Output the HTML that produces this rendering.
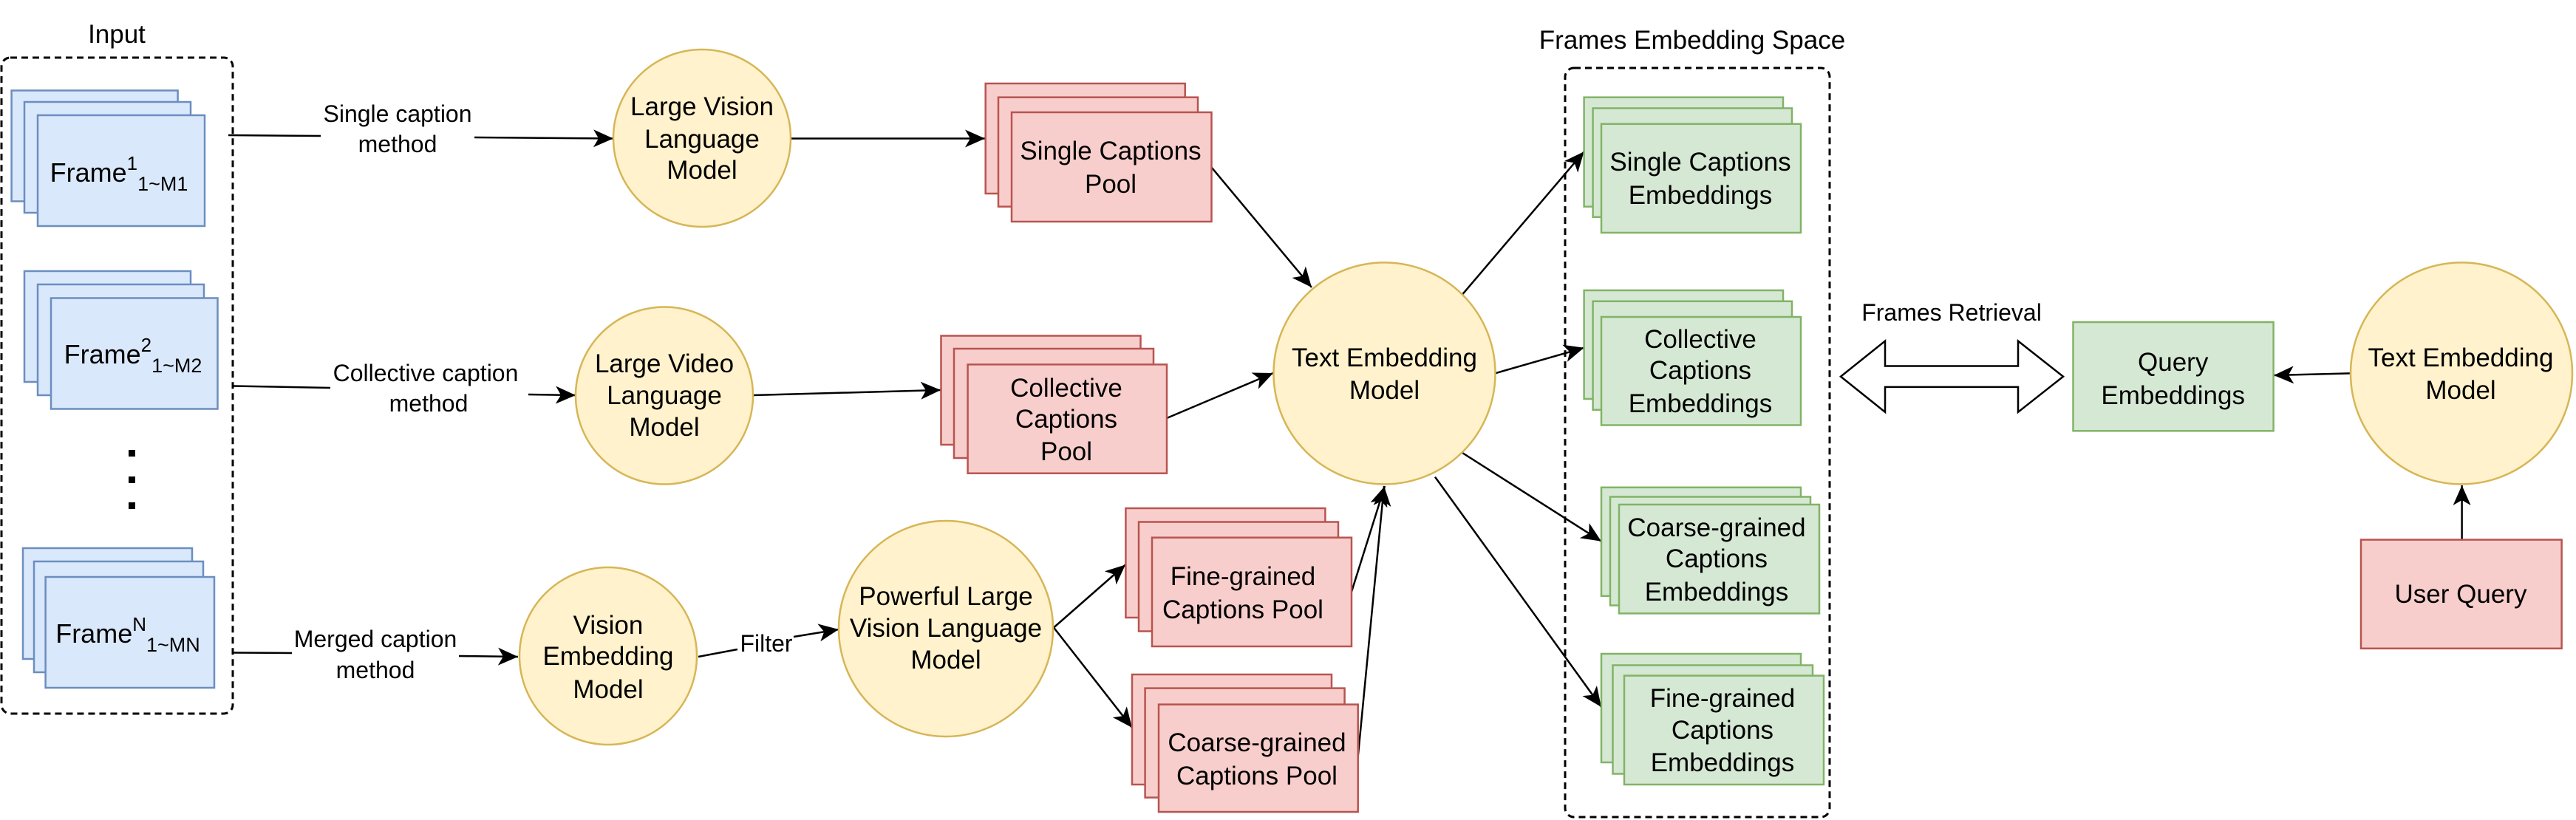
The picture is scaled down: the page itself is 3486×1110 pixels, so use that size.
<!DOCTYPE html>
<html><head><meta charset="utf-8"><style>
html,body{margin:0;padding:0;background:#fff;}
svg{display:block;}
text{font-family:"Liberation Sans",Arial,sans-serif;fill:#000;}
</style></head><body>
<svg width="3486" height="1110" viewBox="0 0 3486 1110" xmlns="http://www.w3.org/2000/svg">
<defs>
<marker id="a" markerUnits="userSpaceOnUse" markerWidth="30" markerHeight="26" refX="27" refY="12" orient="auto" viewBox="0 0 30 26">
<path d="M0,0 L27,12 L0,24 L7,12 z" fill="#000"/>
</marker>
</defs>
<g font-size="35" text-anchor="middle">
<!-- Input -->
<text x="158" y="58">Input</text>
<rect x="2" y="78" width="313" height="888" rx="12" fill="none" stroke="#000" stroke-width="3" stroke-dasharray="9,6"/>
<g fill="#dae8fc" stroke="#6c8ebf" stroke-width="2.5">
<rect x="15.6" y="122.5" width="225" height="150"/>
<rect x="33" y="138" width="225" height="150"/>
<rect x="51" y="156" width="226" height="150"/>
<rect x="33" y="367" width="225" height="150"/>
<rect x="51" y="385" width="225" height="150"/>
<rect x="69" y="403.5" width="225.5" height="150"/>
<rect x="31" y="742" width="229" height="150"/>
<rect x="46" y="760" width="229" height="150"/>
<rect x="61.6" y="781" width="228.4" height="150"/>
</g>
<text x="161" y="246" font-size="36">Frame<tspan font-size="26" dy="-16">1</tspan><tspan font-size="27" dy="28">1~M1</tspan></text>
<text x="180" y="492" font-size="36">Frame<tspan font-size="26" dy="-16">2</tspan><tspan font-size="27" dy="28">1~M2</tspan></text>
<text x="173" y="870" font-size="36">Frame<tspan font-size="26" dy="-16">N</tspan><tspan font-size="27" dy="28">1~MN</tspan></text>
<rect x="174" y="609" width="9" height="9"/>
<rect x="174" y="645" width="9" height="9"/>
<rect x="174" y="680" width="9" height="9"/>

<!-- connectors with labels -->
<g stroke="#000" stroke-width="2.5" fill="none">
<line x1="309" y1="183" x2="434" y2="184"/>
<line x1="642" y1="186" x2="830" y2="187.5" marker-end="url(#a)"/>
<line x1="315" y1="522.5" x2="447" y2="525"/>
<line x1="715" y1="534" x2="779" y2="535" marker-end="url(#a)"/>
<line x1="315" y1="883.5" x2="395" y2="884"/>
<line x1="621" y1="888" x2="701" y2="889" marker-end="url(#a)"/>
<line x1="945" y1="889" x2="998" y2="879"/>
<line x1="1074" y1="862" x2="1135" y2="852" marker-end="url(#a)"/>
<line x1="1070" y1="187.5" x2="1333" y2="187.5" marker-end="url(#a)"/>
<line x1="1019" y1="535" x2="1273" y2="528" marker-end="url(#a)"/>
<line x1="1426" y1="849.5" x2="1523" y2="764.5" marker-end="url(#a)"/>
<line x1="1426" y1="849.5" x2="1532" y2="985" marker-end="url(#a)"/>
<line x1="1639.5" y1="226.5" x2="1775" y2="389" marker-end="url(#a)"/>
<line x1="1579" y1="566" x2="1723" y2="505" marker-end="url(#a)"/>
<line x1="1829" y1="801" x2="1874" y2="658" marker-end="url(#a)"/>
<line x1="1837.7" y1="1024" x2="1873" y2="658" marker-end="url(#a)"/>
<line x1="1979" y1="398.6" x2="2143.6" y2="205.3" marker-end="url(#a)"/>
<line x1="2023" y1="505.4" x2="2143.6" y2="470.8" marker-end="url(#a)"/>
<line x1="1979" y1="613" x2="2167" y2="732.7" marker-end="url(#a)"/>
<line x1="1942" y1="645.6" x2="2167" y2="957" marker-end="url(#a)"/>
<line x1="3181" y1="505.4" x2="3077" y2="508" marker-end="url(#a)"/>
<line x1="3331.6" y1="730.6" x2="3331.6" y2="657" marker-end="url(#a)"/>
</g>
<g font-size="32">
<text x="538" y="165">Single caption</text>
<text x="538" y="206">method</text>
<text x="576" y="516">Collective caption</text>
<text x="580" y="557">method</text>
<text x="508" y="876">Merged caption</text>
<text x="508" y="918">method</text>
<text x="1037" y="882">Filter</text>
</g>

<!-- yellow circles -->
<g fill="#fff2cc" stroke="#d6b656" stroke-width="2.5">
<circle cx="950" cy="187" r="120"/>
<circle cx="899" cy="535.5" r="120"/>
<circle cx="823" cy="888" r="120"/>
<ellipse cx="1280" cy="851" rx="145" ry="146"/>
<circle cx="1873.5" cy="505.4" r="150"/>
<circle cx="3331" cy="505.4" r="150"/>
</g>
<text x="950" y="156">Large Vision</text>
<text x="950" y="200">Language</text>
<text x="950" y="242">Model</text>
<text x="899" y="504">Large Video</text>
<text x="899" y="547">Language</text>
<text x="899" y="590">Model</text>
<text x="823" y="858">Vision</text>
<text x="823" y="900">Embedding</text>
<text x="823" y="945">Model</text>
<text x="1280" y="819">Powerful Large</text>
<text x="1280" y="862">Vision Language</text>
<text x="1280" y="905">Model</text>
<text x="1873.5" y="496">Text Embedding</text>
<text x="1873.5" y="540">Model</text>
<text x="3330" y="496">Text Embedding</text>
<text x="3330" y="540">Model</text>

<!-- red pools -->
<g fill="#f8cecc" stroke="#b85450" stroke-width="2.5">
<rect x="1333.7" y="113" width="270" height="149"/>
<rect x="1351" y="131.7" width="270" height="148"/>
<rect x="1369" y="152" width="270.5" height="148"/>
<rect x="1273.5" y="454.5" width="270" height="147.5"/>
<rect x="1291" y="472" width="270" height="148"/>
<rect x="1309.6" y="493.4" width="269.4" height="147.3"/>
<rect x="1523.4" y="688" width="270" height="148"/>
<rect x="1541" y="706.5" width="270" height="148"/>
<rect x="1559" y="727.7" width="270" height="147.3"/>
<rect x="1532" y="913" width="270" height="149"/>
<rect x="1549.6" y="931.6" width="270" height="148"/>
<rect x="1568" y="953.6" width="269.7" height="145.4"/>
<rect x="3195" y="730.6" width="271.6" height="147.2"/>
</g>
<text x="1503" y="216">Single Captions</text>
<text x="1503" y="261">Pool</text>
<text x="1443" y="537">Collective</text>
<text x="1443" y="579">Captions</text>
<text x="1443" y="623">Pool</text>
<text x="1682" y="792">Fine-grained</text>
<text x="1682" y="837">Captions Pool</text>
<text x="1701" y="1017">Coarse-grained</text>
<text x="1701" y="1062">Captions Pool</text>
<text x="3330" y="816">User Query</text>

<!-- frames embedding space -->
<text x="2290" y="66">Frames Embedding Space</text>
<rect x="2118" y="92" width="358" height="1014" rx="12" fill="none" stroke="#000" stroke-width="3" stroke-dasharray="9,6"/>
<g fill="#d5e8d4" stroke="#82b366" stroke-width="2.5">
<rect x="2143.6" y="131.7" width="269.4" height="148"/>
<rect x="2155.6" y="146.5" width="269.4" height="147.3"/>
<rect x="2167" y="167.8" width="270" height="147.2"/>
<rect x="2143.6" y="393" width="269.4" height="147"/>
<rect x="2155.6" y="407.8" width="269.4" height="147"/>
<rect x="2167" y="429" width="270" height="146.5"/>
<rect x="2167" y="659.8" width="270" height="147"/>
<rect x="2179" y="672.5" width="271" height="147"/>
<rect x="2191" y="683" width="271" height="147.4"/>
<rect x="2167" y="885" width="270" height="147"/>
<rect x="2182.5" y="900.5" width="270.5" height="147"/>
<rect x="2198" y="914.6" width="270" height="147.4"/>
<rect x="2805.5" y="436" width="271.1" height="147.3"/>
</g>
<text x="2301" y="231">Single Captions</text>
<text x="2301" y="276">Embeddings</text>
<text x="2301" y="471">Collective</text>
<text x="2301" y="513">Captions</text>
<text x="2301" y="558">Embeddings</text>
<text x="2323" y="726">Coarse-grained</text>
<text x="2323" y="768">Captions</text>
<text x="2323" y="813">Embeddings</text>
<text x="2331" y="957">Fine-grained</text>
<text x="2331" y="1000">Captions</text>
<text x="2331" y="1044">Embeddings</text>
<text x="2940.7" y="502">Query</text>
<text x="2940.7" y="547">Embeddings</text>

<!-- frames retrieval -->
<text x="2641" y="434" font-size="32">Frames Retrieval</text>
<path d="M2491,509.7 L2551,461.6 L2551,495.5 L2731,495.5 L2731,461.6 L2792,509.7 L2731,557.8 L2731,523.9 L2551,523.9 L2551,557.8 Z" fill="#fff" stroke="#000" stroke-width="2.5"/>
</g>
</svg>
</body></html>
